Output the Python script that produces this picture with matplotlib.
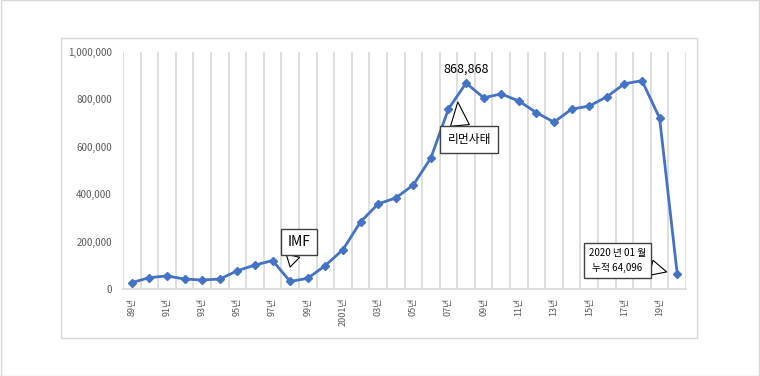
import matplotlib
matplotlib.use("Agg")
import matplotlib.pyplot as plt
from matplotlib.patches import Rectangle
from matplotlib.ticker import FuncFormatter

plt.rcParams['font.family'] = ['Noto Sans CJK KR', 'DejaVu Sans']

# 연도별 값 (1989 ~ 2020.01)
years = list(range(1989, 2021))
values = [27000, 48000, 55000, 42000, 38000, 42000, 77000, 101000, 120000, 32000,
          45000, 99000, 166000, 283000, 359000, 384000, 439000, 553000, 760000, 868868,
          807000, 823000, 793000, 744000, 704000, 759000, 772000, 811000, 866000, 879000,
          721000, 64096]
tick_labels = ['89년', '91년', '93년', '95년', '97년', '99년', '2001년', '03년',
               '05년', '07년', '09년', '11년', '13년', '15년', '17년', '19년']
yticks = [0, 200000, 400000, 600000, 800000, 1000000]

grey = '#595959'
grid = '#d9d9d9'
blue = '#4472c4'

fig = plt.figure(figsize=(7.6, 3.76), dpi=100)

# outer frame and chart area frame
fig.patches.append(Rectangle((0.0007, 0.0013), 0.9986, 0.9974, transform=fig.transFigure,
                             fill=False, ec=grid, lw=1))
fig.patches.append(Rectangle((61 / 760, 38 / 376), 636 / 760, 300 / 376, transform=fig.transFigure,
                             fill=False, ec=grid, lw=1))

ax = fig.add_axes([123 / 760, 87 / 376, 563 / 760, 237 / 376])

x = list(range(len(values)))
ax.plot(x, values, color=blue, lw=2, marker='D', ms=4.5, zorder=3)

ax.set_xlim(-0.5, len(values) - 0.5)
ax.set_ylim(0, 1000000)

# vertical gridlines between categories
for k in range(len(values) + 1):
    ax.axvline(k - 0.5, color=grid, lw=1.2, zorder=1)

ax.set_yticks(yticks)
ax.yaxis.set_major_formatter(FuncFormatter(lambda v, p: f'{int(v):,}'))
ax.set_xticks(x[::2])
ax.set_xticklabels(tick_labels, rotation=90, va='top', ha='center')
ax.tick_params(axis='both', length=0, colors=grey, labelsize=7)
ax.tick_params(axis='x', pad=6, labelsize=6.5)
ax.tick_params(axis='y', pad=8)

for s in ['top', 'right', 'left']:
    ax.spines[s].set_visible(False)
ax.spines['bottom'].set_color(grid)
ax.spines['bottom'].set_linewidth(1.2)

box = dict(boxstyle='square,pad=0.45', fc='white', ec='#404040', lw=1)

# peak label
ax.annotate(f'{values[19]:,}', xy=(19, values[19]), xytext=(0, 14), textcoords='offset pixels',
            ha='center', va='center', fontsize=9)

# IMF callout
ax.annotate('IMF', xy=(9, 93000), xytext=(9, 25), textcoords='offset pixels',
            ha='center', va='center', fontsize=10, bbox=box,
            arrowprops=dict(arrowstyle='wedge,tail_width=1.0', fc='white', ec='black', lw=0.8,
                            shrinkA=0, shrinkB=0, relpos=(0.3, 0)))

# 리먼사태 callout
ax.annotate('리먼사태', xy=(18.53, 789000), xytext=(11.5, -37.5), textcoords='offset pixels',
            ha='center', va='center', fontsize=8.5, bbox=dict(box, boxstyle='square,pad=0.6'),
            arrowprops=dict(arrowstyle='wedge,tail_width=1.6', fc='white', ec='black', lw=0.8,
                            shrinkA=0, shrinkB=0, relpos=(0.3, 1)))

# 2020 callout
ax.annotate('2020 년 01 월\n누적 64,096', xy=(30.4, 72000), xytext=(-49.5, 11.5),
            textcoords='offset pixels', ha='center', va='center', fontsize=7, linespacing=1.6,
            bbox=dict(box, boxstyle='square,pad=0.5'),
            arrowprops=dict(arrowstyle='wedge,tail_width=1.6', fc='white', ec='black', lw=0.8,
                            shrinkA=0, shrinkB=0, relpos=(1, 0.26)))

fig.savefig('out.png', dpi=100)
